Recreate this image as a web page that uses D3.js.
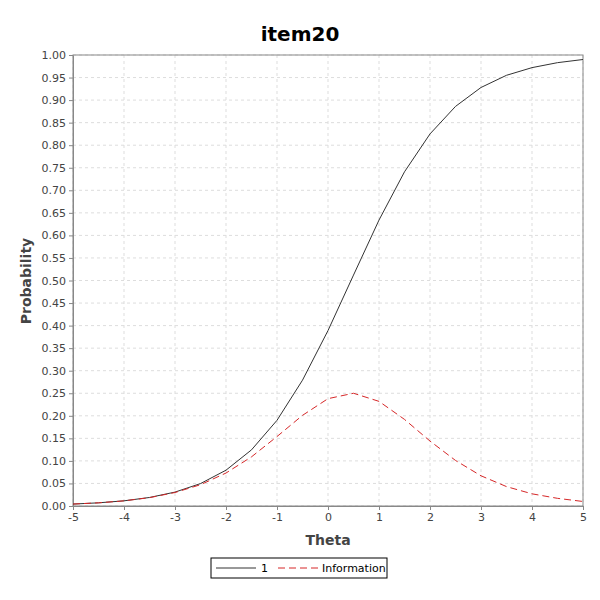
<!DOCTYPE html><html><head><meta charset="utf-8"><script src="https://cdn.jsdelivr.net/npm/d3@7"></script>
<style>body{margin:0;background:#fff}text{font-family:"DejaVu Sans",sans-serif}</style></head><body>
<svg id="c" width="600" height="600"></svg>
<script>
const theta=[-5,-4.5,-4,-3.5,-3,-2.5,-2,-1.5,-1,-0.5,0,0.5,1,1.5,2,2.5,3,3.5,4,4.5,5];
const prob=[0.0043,0.0070,0.0115,0.0189,0.0308,0.0497,0.0794,0.1245,0.190,0.279,0.389,0.512,0.634,0.741,0.825,0.886,0.928,0.955,0.972,0.983,0.990];
const info=[0.0043,0.0070,0.0114,0.0185,0.0299,0.0472,0.0731,0.109,0.154,0.201,0.238,0.250,0.232,0.192,0.144,0.101,0.067,0.043,0.027,0.017,0.010];
const xTicks=d3.range(-5,6,1);
const yTicks=d3.range(0,21).map(i=>i*0.05);
const svg=d3.select("#c");
const L=73,R=583,T=55,B=506;
const x=d3.scaleLinear().domain([-5,5]).range([L,R]);
const y=d3.scaleLinear().domain([0,1]).range([B,T]);
svg.append("rect").attr("width",600).attr("height",600).attr("fill","#fff");
const g=svg.append("g");
g.selectAll(".gx").data(xTicks).join("line").attr("x1",d=>x(d)).attr("x2",d=>x(d)).attr("y1",T).attr("y2",B).attr("stroke","#ddd").attr("stroke-dasharray","3,3");
g.selectAll(".gy").data(yTicks).join("line").attr("y1",d=>y(d)).attr("y2",d=>y(d)).attr("x1",L).attr("x2",R).attr("stroke","#ddd").attr("stroke-dasharray","3,3");
svg.append("rect").attr("x",L).attr("y",T).attr("width",R-L).attr("height",B-T).attr("fill","none").attr("stroke","#888");
const xa=svg.append("g").attr("transform",`translate(0,${B})`).call(d3.axisBottom(x).tickValues(xTicks).tickFormat(d=>String(d)).tickSize(4).tickSizeOuter(0));
const ya=svg.append("g").attr("transform",`translate(${L},0)`).call(d3.axisLeft(y).tickValues(yTicks).tickFormat(d=>d.toFixed(2)).tickSize(4).tickSizeOuter(0));
[xa,ya].forEach(a=>{a.selectAll("text").attr("font-size",11).attr("fill","#444");a.selectAll("line,path").attr("stroke","#888");});
const line=d3.line().x((d,i)=>x(theta[i])).y(d=>y(d));
svg.append("path").datum(prob).attr("d",line).attr("fill","none").attr("stroke","#333").attr("stroke-width",1);
svg.append("path").datum(info).attr("d",line).attr("fill","none").attr("stroke","#d62728").attr("stroke-width",1).attr("stroke-dasharray","7,4");
svg.append("text").attr("x",300).attr("y",41).attr("text-anchor","middle").attr("font-size",20).attr("font-weight","bold").text("item20");
svg.append("text").attr("x",328).attr("y",545).attr("text-anchor","middle").attr("font-size",14).attr("font-weight","bold").attr("fill","#444").text("Theta");
svg.append("text").attr("transform","translate(31,281) rotate(-90)").attr("text-anchor","middle").attr("font-size",14).attr("font-weight","bold").attr("fill","#444").text("Probability");
const lg=svg.append("g");
lg.append("rect").attr("x",211).attr("y",558).attr("width",176).attr("height",20).attr("fill","#fff").attr("stroke","#000");
lg.append("line").attr("x1",216).attr("x2",256).attr("y1",568).attr("y2",568).attr("stroke","#333");
lg.append("text").attr("x",261).attr("y",572).attr("font-size",11).text("1");
lg.append("line").attr("x1",278).attr("x2",318).attr("y1",568).attr("y2",568).attr("stroke","#d62728").attr("stroke-dasharray","7,4");
lg.append("text").attr("x",322).attr("y",572).attr("font-size",11).text("Information");
</script></body></html>
